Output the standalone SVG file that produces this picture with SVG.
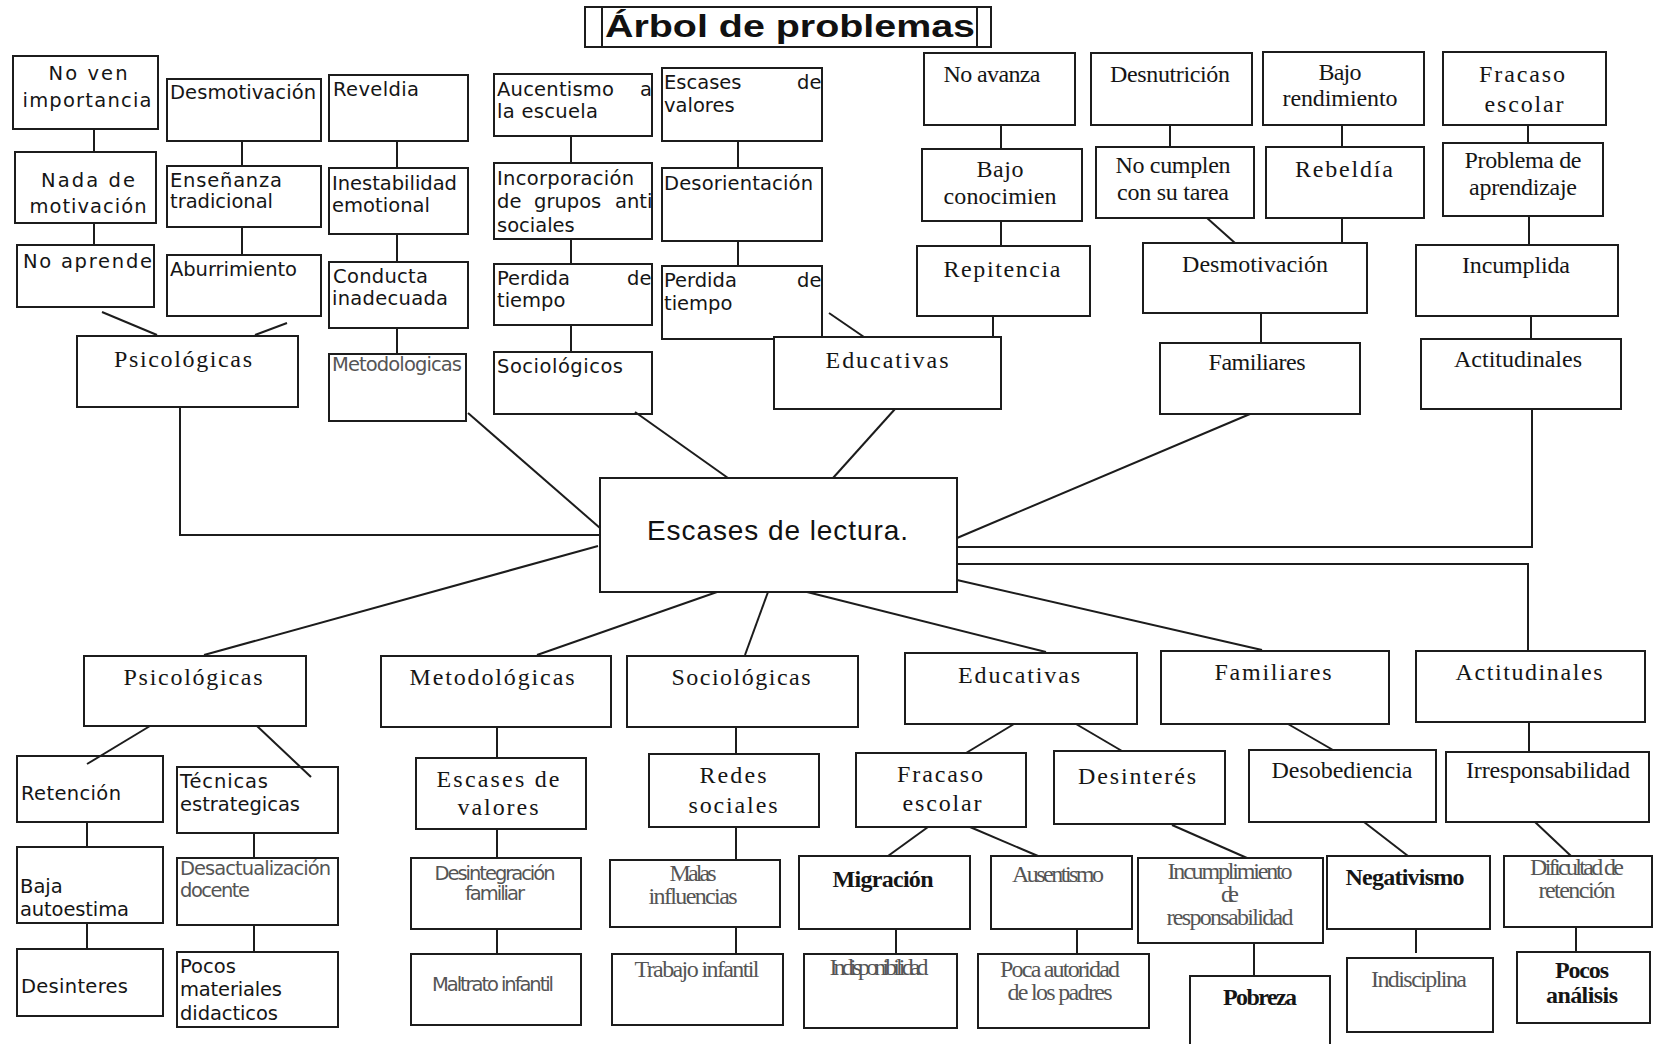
<svg xmlns="http://www.w3.org/2000/svg" width="1655" height="1044" viewBox="0 0 1655 1044">
<style>
.b{fill:#fff;stroke:#1c1c1c;stroke-width:2}
.t{font-family:"DejaVu Sans",sans-serif;font-size:19.5px;fill:#151515}
.f{font-family:"Liberation Serif","Times New Roman",serif;font-size:24px;fill:#151515}
.m{text-anchor:middle}
.g{fill:#555}
.k{font-weight:bold}
#connectors line,#connectors polyline{stroke:#1c1c1c;stroke-width:2;fill:none}
</style>
<rect width="1655" height="1044" fill="#fff"/>
<g id="title">
<rect x="585" y="7" width="406" height="40" fill="#fff" stroke="#1c1c1c" stroke-width="2"/>
<line x1="602" y1="7" x2="602" y2="47" stroke="#1c1c1c" stroke-width="2"/>
<line x1="977" y1="7" x2="977" y2="47" stroke="#1c1c1c" stroke-width="2"/>
<text x="605" y="37" font-family="Liberation Sans,Arial,sans-serif" font-weight="bold" font-size="31" textLength="370" lengthAdjust="spacingAndGlyphs" fill="#111">Árbol de problemas</text>
</g>
<g id="nodes">
<g id="n-center"><rect class="b" x="600" y="478" width="357" height="114"/><text x="647" y="540" font-family="Liberation Sans,Arial,sans-serif" font-size="28" textLength="261" fill="#111">Escases de lectura.</text></g>
<g id="n-no-ven"><rect class="b" x="13" y="56" width="145" height="73"/><text class="t m" x="88" y="80" font-size="21" textLength="79">No ven</text><text class="t m" x="87" y="107" font-size="21" textLength="129">importancia</text></g>
<g id="n-nada"><rect class="b" x="15" y="152" width="141" height="71"/><text class="t m" x="88" y="187" font-size="21" textLength="94">Nada de</text><text class="t m" x="88" y="213" font-size="21" textLength="117">motivación</text></g>
<g id="n-no-aprende"><rect class="b" x="17" y="245" width="137" height="62"/><text class="t" x="23" y="268" font-size="21" textLength="129">No aprende</text></g>
<g id="n-desmot1"><rect class="b" x="167" y="79" width="154" height="62"/><text class="t" x="170" y="99" textLength="146">Desmotivación</text></g>
<g id="n-ensenanza"><rect class="b" x="167" y="166" width="154" height="61"/><text class="t" x="170" y="187" textLength="112">Enseñanza</text><text class="t" x="170" y="208" textLength="103">tradicional</text></g>
<g id="n-aburrimiento"><rect class="b" x="167" y="255" width="154" height="61"/><text class="t" x="170" y="276" textLength="127">Aburrimiento</text></g>
<g id="n-psico-top"><rect class="b" x="77" y="336" width="221" height="71"/><text class="f m" x="183" y="367" textLength="138">Psicológicas</text></g>
<g id="n-reveldia"><rect class="b" x="329" y="75" width="139" height="66"/><text class="t" x="333" y="96" textLength="86">Reveldia</text></g>
<g id="n-inestab"><rect class="b" x="329" y="168" width="139" height="66"/><text class="t" x="332" y="190" textLength="125">Inestabilidad</text><text class="t" x="332" y="212" textLength="98">emotional</text></g>
<g id="n-conducta"><rect class="b" x="329" y="262" width="139" height="66"/><text class="t" x="333" y="283" textLength="95">Conducta</text><text class="t" x="332" y="305" textLength="116">inadecuada</text></g>
<g id="n-metod-top"><rect class="b" x="329" y="354" width="137" height="67"/><text class="t g" x="332" y="371" font-size="16" textLength="130">Metodologicas</text></g>
<g id="n-aucentismo"><rect class="b" x="494" y="74" width="158" height="62"/><text class="t" x="497" y="96" textLength="117">Aucentismo</text><text class="t" x="640" y="96">a</text><text class="t" x="497" y="118" textLength="101">la escuela</text></g>
<g id="n-incorporacion"><rect class="b" x="494" y="163" width="158" height="76"/><text class="t" x="497" y="185" textLength="137">Incorporación</text><text class="t" x="497" y="208">de</text><text class="t" x="534" y="208">grupos</text><text class="t" x="615" y="208">anti</text><text class="t" x="497" y="232">sociales</text></g>
<g id="n-perdida1"><rect class="b" x="494" y="264" width="158" height="61"/><text class="t" x="497" y="285">Perdida</text><text class="t" x="627" y="285">de</text><text class="t" x="497" y="307">tiempo</text></g>
<g id="n-sociologicos"><rect class="b" x="494" y="352" width="158" height="62"/><text class="t" x="497" y="373" textLength="126">Sociológicos</text></g>
<g id="n-escases-top"><rect class="b" x="662" y="68" width="160" height="73"/><text class="t" x="664" y="89">Escases</text><text class="t" x="797" y="89">de</text><text class="t" x="664" y="112">valores</text></g>
<g id="n-desorientacion"><rect class="b" x="662" y="168" width="160" height="73"/><text class="t" x="664" y="190" textLength="149">Desorientación</text></g>
<g id="n-perdida2"><rect class="b" x="662" y="266" width="160" height="73"/><text class="t" x="664" y="287">Perdida</text><text class="t" x="797" y="287">de</text><text class="t" x="664" y="310">tiempo</text></g>
<g id="n-educ-top"><rect class="b" x="774" y="337" width="227" height="72"/><text class="f m" x="887" y="368" textLength="123">Educativas</text></g>
<g id="n-no-avanza"><rect class="b" x="924" y="53" width="151" height="72"/><text class="f m" x="992" y="82" font-size="22" textLength="97">No avanza</text></g>
<g id="n-bajo-con"><rect class="b" x="922" y="149" width="160" height="72"/><text class="f m" x="1000" y="177" textLength="47">Bajo</text><text class="f m" x="1000" y="204" font-size="23" textLength="113">conocimien</text></g>
<g id="n-repitencia"><rect class="b" x="917" y="246" width="173" height="70"/><text class="f m" x="1002" y="277" font-size="25" textLength="117">Repitencia</text></g>
<g id="n-desnutricion"><rect class="b" x="1091" y="53" width="161" height="72"/><text class="f m" x="1170" y="82" font-size="22" textLength="120">Desnutrición</text></g>
<g id="n-no-cumplen"><rect class="b" x="1096" y="147" width="158" height="71"/><text class="f m" x="1173" y="173" font-size="22" textLength="115">No cumplen</text><text class="f m" x="1173" y="200" font-size="22" textLength="112">con su tarea</text></g>
<g id="n-desmot2"><rect class="b" x="1143" y="243" width="224" height="70"/><text class="f" x="1182" y="272" font-size="23" textLength="146">Desmotivación</text></g>
<g id="n-fam-top"><rect class="b" x="1160" y="343" width="200" height="71"/><text class="f m" x="1257" y="370" font-size="21" textLength="97">Familiares</text></g>
<g id="n-bajo-rend"><rect class="b" x="1263" y="52" width="161" height="73"/><text class="f m" x="1340" y="80" font-size="21" textLength="43">Bajo</text><text class="f m" x="1340" y="106" font-size="21" textLength="115">rendimiento</text></g>
<g id="n-rebeldia"><rect class="b" x="1266" y="147" width="158" height="71"/><text class="f m" x="1344" y="177" textLength="98">Rebeldía</text></g>
<g id="n-fracaso-top"><rect class="b" x="1443" y="52" width="163" height="73"/><text class="f m" x="1522" y="82" textLength="86">Fracaso</text><text class="f m" x="1524" y="112" textLength="79">escolar</text></g>
<g id="n-problema"><rect class="b" x="1443" y="143" width="160" height="73"/><text class="f m" x="1523" y="168" font-size="21" textLength="117">Problema de</text><text class="f m" x="1523" y="195" font-size="21" textLength="108">aprendizaje</text></g>
<g id="n-incumplida"><rect class="b" x="1416" y="245" width="202" height="71"/><text class="f m" x="1516" y="273" font-size="21" textLength="108">Incumplida</text></g>
<g id="n-actit-top"><rect class="b" x="1421" y="339" width="200" height="70"/><text class="f m" x="1518" y="367" font-size="21" textLength="128">Actitudinales</text></g>
<g id="n-psico-bot"><rect class="b" x="84" y="656" width="222" height="70"/><text class="f m" x="193" y="685" textLength="139">Psicológicas</text></g>
<g id="n-metod-bot"><rect class="b" x="381" y="656" width="230" height="71"/><text class="f m" x="492" y="685" textLength="165">Metodológicas</text></g>
<g id="n-socio-bot"><rect class="b" x="627" y="656" width="231" height="71"/><text class="f m" x="741" y="685" textLength="139">Sociológicas</text></g>
<g id="n-educ-bot"><rect class="b" x="905" y="653" width="232" height="71"/><text class="f m" x="1019" y="683" textLength="122">Educativas</text></g>
<g id="n-fam-bot"><rect class="b" x="1161" y="651" width="228" height="73"/><text class="f m" x="1273" y="680" textLength="117">Familiares</text></g>
<g id="n-actit-bot"><rect class="b" x="1416" y="651" width="229" height="71"/><text class="f m" x="1529" y="680" textLength="147">Actitudinales</text></g>
<g id="n-retencion"><rect class="b" x="17" y="756" width="146" height="66"/><text class="t" x="21" y="800" textLength="100">Retención</text></g>
<g id="n-baja-auto"><rect class="b" x="17" y="847" width="146" height="76"/><text class="t" x="20" y="893">Baja</text><text class="t" x="20" y="916" textLength="109">autoestima</text></g>
<g id="n-desinteres1"><rect class="b" x="17" y="949" width="146" height="67"/><text class="t" x="21" y="993" textLength="107">Desinteres</text></g>
<g id="n-tecnicas"><rect class="b" x="177" y="767" width="161" height="66"/><text class="t" x="180" y="788" textLength="88">Técnicas</text><text class="t" x="180" y="811" textLength="120">estrategicas</text></g>
<g id="n-desactual"><rect class="b" x="177" y="858" width="161" height="67"/><text class="t g" x="180" y="875" font-size="17" textLength="151">Desactualización</text><text class="t g" x="180" y="897" font-size="17" textLength="70">docente</text></g>
<g id="n-pocos-mat"><rect class="b" x="177" y="952" width="161" height="75"/><text class="t" x="180" y="973">Pocos</text><text class="t" x="180" y="996" textLength="102">materiales</text><text class="t" x="180" y="1020" textLength="98">didacticos</text></g>
<g id="n-escases-bot"><rect class="b" x="416" y="758" width="170" height="71"/><text class="f m" x="498" y="787" font-size="25" textLength="123">Escases de</text><text class="f m" x="498" y="815" font-size="25" textLength="81">valores</text></g>
<g id="n-desintegracion"><rect class="b" x="411" y="858" width="170" height="71"/><text class="t m g" x="495" y="880" font-size="13" textLength="121">Desintegración</text><text class="t m g" x="495" y="900" font-size="13" textLength="60">familiar</text></g>
<g id="n-maltrato"><rect class="b" x="411" y="954" width="170" height="71"/><text class="t m g" x="493" y="991" font-size="13" textLength="122">Maltrato infantil</text></g>
<g id="n-redes"><rect class="b" x="649" y="754" width="170" height="73"/><text class="f m" x="733" y="783" font-size="25" textLength="67">Redes</text><text class="f m" x="733" y="813" font-size="25" textLength="89">sociales</text></g>
<g id="n-malas"><rect class="b" x="610" y="860" width="170" height="67"/><text class="f m g" x="693" y="881" font-size="15" textLength="47">Malas</text><text class="f m g" x="693" y="904" font-size="15" textLength="89">influencias</text></g>
<g id="n-trabajo"><rect class="b" x="612" y="954" width="171" height="71"/><text class="f m g" x="697" y="977" font-size="16" textLength="125">Trabajo infantil</text></g>
<g id="n-fracaso-bot"><rect class="b" x="856" y="753" width="170" height="74"/><text class="f m" x="940" y="782" textLength="86">Fracaso</text><text class="f m" x="942" y="811" textLength="79">escolar</text></g>
<g id="n-desinteres2"><rect class="b" x="1054" y="751" width="171" height="73"/><text class="f m" x="1137" y="784" font-size="25" textLength="118">Desinterés</text></g>
<g id="n-migracion"><rect class="b" x="799" y="856" width="171" height="73"/><text class="f m k" x="883" y="887" font-size="22" textLength="101">Migración</text></g>
<g id="n-ausentismo"><rect class="b" x="991" y="856" width="141" height="73"/><text class="f m g" x="1058" y="882" font-size="15" textLength="92">Ausentismo</text></g>
<g id="n-indisp"><rect class="b" x="804" y="954" width="153" height="74"/><text class="f m g" x="879" y="975" font-size="11" textLength="99">Indisponibilidad</text></g>
<g id="n-poca-aut"><rect class="b" x="978" y="954" width="171" height="74"/><text class="f m g" x="1060" y="977" font-size="16" textLength="120">Poca autoridad</text><text class="f m g" x="1060" y="1000" font-size="16" textLength="105">de los padres</text></g>
<g id="n-incumplimiento"><rect class="b" x="1138" y="858" width="185" height="85"/><text class="f m g" x="1230" y="879" font-size="14" textLength="125">Incumplimiento</text><text class="f m g" x="1230" y="902" font-size="14" textLength="18">de</text><text class="f m g" x="1230" y="925" font-size="14" textLength="127">responsabilidad</text></g>
<g id="n-pobreza"><rect class="b" x="1190" y="976" width="140" height="80"/><text class="f m k" x="1260" y="1005" font-size="21" textLength="74">Pobreza</text></g>
<g id="n-desobediencia"><rect class="b" x="1249" y="750" width="187" height="72"/><text class="f m" x="1342" y="778" font-size="23" textLength="141">Desobediencia</text></g>
<g id="n-negativismo"><rect class="b" x="1327" y="856" width="163" height="73"/><text class="f m k" x="1405" y="885" font-size="22" textLength="119">Negativismo</text></g>
<g id="n-indisciplina"><rect class="b" x="1347" y="958" width="146" height="74"/><text class="f m g" x="1419" y="987" font-size="16" textLength="96">Indisciplina</text></g>
<g id="n-irresp"><rect class="b" x="1446" y="752" width="203" height="70"/><text class="f m" x="1548" y="778" font-size="22" textLength="164">Irresponsabilidad</text></g>
<g id="n-dificultad"><rect class="b" x="1504" y="856" width="148" height="71"/><text class="f m g" x="1577" y="875" font-size="14" textLength="94">Dificultad de</text><text class="f m g" x="1577" y="898" font-size="14" textLength="77">retención</text></g>
<g id="n-pocos-an"><rect class="b" x="1517" y="952" width="133" height="71"/><text class="f m k" x="1582" y="978" font-size="21" textLength="54">Pocos</text><text class="f m k" x="1582" y="1003" font-size="21" textLength="72">análisis</text></g>
</g>
<g id="connectors">
<line x1="94" y1="129" x2="94" y2="152"/>
<line x1="94" y1="223" x2="94" y2="245"/>
<line x1="102" y1="312" x2="157" y2="335"/>
<line x1="242" y1="141" x2="242" y2="166"/>
<line x1="242" y1="227" x2="242" y2="255"/>
<line x1="287" y1="323" x2="255" y2="335"/>
<line x1="397" y1="141" x2="397" y2="168"/>
<line x1="397" y1="234" x2="397" y2="262"/>
<line x1="397" y1="328" x2="397" y2="354"/>
<line x1="571" y1="136" x2="571" y2="163"/>
<line x1="571" y1="239" x2="571" y2="264"/>
<line x1="571" y1="325" x2="571" y2="352"/>
<line x1="738" y1="141" x2="738" y2="168"/>
<line x1="738" y1="241" x2="738" y2="266"/>
<line x1="829" y1="313" x2="864" y2="337"/>
<line x1="1001" y1="125" x2="1001" y2="149"/>
<line x1="1001" y1="221" x2="1001" y2="246"/>
<line x1="993" y1="316" x2="993" y2="337"/>
<line x1="1170" y1="125" x2="1170" y2="147"/>
<line x1="1207" y1="218" x2="1235" y2="243"/>
<line x1="1261" y1="313" x2="1261" y2="343"/>
<line x1="1342" y1="125" x2="1342" y2="147"/>
<line x1="1342" y1="218" x2="1342" y2="243"/>
<line x1="1528" y1="125" x2="1528" y2="143"/>
<line x1="1529" y1="216" x2="1529" y2="245"/>
<line x1="1531" y1="316" x2="1531" y2="339"/>
<polyline points="180,407 180,535 600,535"/>
<line x1="468" y1="413" x2="600" y2="528"/>
<line x1="635" y1="412" x2="728" y2="478"/>
<line x1="895" y1="409" x2="833" y2="478"/>
<line x1="1250" y1="414" x2="957" y2="538"/>
<polyline points="1532,409 1532,547 957,547"/>
<polyline points="957,564 1528,564 1528,651"/>
<line x1="598" y1="546" x2="204" y2="655"/>
<line x1="717" y1="592" x2="537" y2="655"/>
<line x1="768" y1="592" x2="745" y2="655"/>
<line x1="807" y1="592" x2="1046" y2="652"/>
<line x1="957" y1="580" x2="1262" y2="650"/>
<line x1="150" y1="726" x2="87" y2="764"/>
<line x1="257" y1="726" x2="311" y2="777"/>
<line x1="87" y1="822" x2="87" y2="847"/>
<line x1="87" y1="923" x2="87" y2="949"/>
<line x1="254" y1="833" x2="254" y2="858"/>
<line x1="254" y1="925" x2="254" y2="952"/>
<line x1="497" y1="727" x2="497" y2="758"/>
<line x1="497" y1="829" x2="497" y2="858"/>
<line x1="497" y1="929" x2="497" y2="954"/>
<line x1="736" y1="727" x2="736" y2="754"/>
<line x1="736" y1="827" x2="736" y2="860"/>
<line x1="736" y1="927" x2="736" y2="954"/>
<line x1="1014" y1="724" x2="966" y2="753"/>
<line x1="1076" y1="724" x2="1122" y2="751"/>
<line x1="928" y1="827" x2="888" y2="856"/>
<line x1="970" y1="827" x2="1038" y2="856"/>
<line x1="896" y1="929" x2="896" y2="954"/>
<line x1="1077" y1="929" x2="1077" y2="954"/>
<line x1="1172" y1="825" x2="1247" y2="858"/>
<line x1="1254" y1="943" x2="1254" y2="976"/>
<line x1="1288" y1="724" x2="1333" y2="750"/>
<line x1="1364" y1="822" x2="1408" y2="856"/>
<line x1="1416" y1="929" x2="1416" y2="953"/>
<line x1="1529" y1="722" x2="1529" y2="752"/>
<line x1="1535" y1="822" x2="1571" y2="856"/>
<line x1="1576" y1="927" x2="1576" y2="952"/>
</g>
</svg>
